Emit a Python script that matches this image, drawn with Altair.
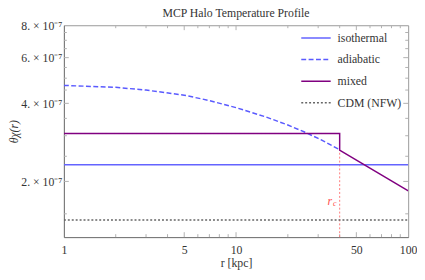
import altair as alt
import pandas as pd

# ---- data ----
series_names = ["isothermal", "adiabatic", "mixed", "CDM (NFW)"]
series_colors = ["#6464ff", "#5a5aff", "#800080", "#666666"]
series_dash = [[1, 0], [5, 2.5], [1, 0], [2, 2]]

iso_r = [1, 100]
iso_t = [2.32e-7, 2.32e-7]

adia_r = [1, 2, 3, 5, 7, 10, 15, 20, 25, 30, 35, 40]
adia_t = [4.69e-7, 4.61e-7, 4.50e-7, 4.30e-7, 4.10e-7, 3.85e-7, 3.54e-7,
          3.30e-7, 3.10e-7, 2.93e-7, 2.78e-7, 2.65e-7]

mixed_r = [1, 40, 40, 100]
mixed_t = [3.06e-7, 3.06e-7, 2.64e-7, 1.84e-7]

cdm_r = [1, 100]
cdm_t = [1.42e-7, 1.42e-7]

r_c = 40
r_c_top = 2.64e-7
r_c_label_y = 1.68e-7

x_domain = [1, 100]
y_domain = [1.22e-7, 8e-7]
x_tick_values = [1, 5, 10, 50, 100]
x_minor = [2, 3, 4, 6, 7, 8, 9, 20, 30, 40, 60, 70, 80, 90]
x_major = [5, 10, 50]
y_tick_values = [2e-7, 4e-7, 6e-7, 8e-7]
y_minor = [1.5e-7, 2.5e-7, 3e-7, 3.5e-7, 4.5e-7, 5e-7, 5.5e-7, 6.5e-7, 7e-7, 7.5e-7]
y_major = [2e-7, 4e-7, 6e-7]

W, H = 351, 216
SERIF = "Liberation Serif"

rows = []
for name, rs, ts in [("isothermal", iso_r, iso_t), ("adiabatic", adia_r, adia_t),
                     ("mixed", mixed_r, mixed_t), ("CDM (NFW)", cdm_r, cdm_t)]:
    for i, (r, t) in enumerate(zip(rs, ts)):
        rows.append({"series": name, "r": r, "theta": t, "order": i})
lines_df = pd.DataFrame(rows)

xs = alt.Scale(type="log", domain=x_domain, nice=False)
ys = alt.Scale(type="log", domain=y_domain, nice=False)

x_axis = alt.Axis(values=x_tick_values, format="d", title="r [kpc]", tickSize=0,
                  labelFont=SERIF, labelFontSize=12, labelColor="#333", labelPadding=8,
                  titleFont=SERIF, titleFontSize=12, titleFontWeight="normal",
                  titleColor="#333", titlePadding=2, domainColor="#777", grid=False,
                  labelFlush=False)
y_axis = alt.Axis(values=y_tick_values, labelExpr="toString(round(datum.value*1e7)) + '. × 10⁻⁷'",
                  title="θχ(r)", tickSize=0, labelFont=SERIF, labelFontSize=12,
                  labelColor="#333", labelPadding=2, titleFont=SERIF, titleFontSize=12,
                  titleFontWeight="normal", titleFontStyle="italic", titleColor="#333",
                  titlePadding=0, domainColor="#777", grid=False)

legend_props = dict(title=None, orient="top-right", symbolType="stroke",
                    symbolSize=900, symbolStrokeWidth=1.5,
                    labelFont=SERIF, labelFontSize=12, labelColor="#333",
                    labelOffset=6, rowPadding=10, clipHeight=12,
                    offset=7, padding=0)

lines = alt.Chart(lines_df).mark_line(strokeWidth=1.5, clip=True).encode(
    x=alt.X("r:Q", scale=xs, axis=x_axis),
    y=alt.Y("theta:Q", scale=ys, axis=y_axis),
    color=alt.Color("series:N", scale=alt.Scale(domain=series_names, range=series_colors),
                    legend=alt.Legend(**legend_props)),
    strokeDash=alt.StrokeDash("series:N", scale=alt.Scale(domain=series_names, range=series_dash),
                              legend=alt.Legend(**legend_props)),
    detail="series:N",
    order="order:Q",
)

rc_df = pd.DataFrame({"r": [r_c], "lo": [y_domain[0]], "hi": [r_c_top], "ly": [r_c_label_y]})
rc_rule = alt.Chart(rc_df).mark_rule(color="#ff7a7a", strokeDash=[2, 2], strokeWidth=1).encode(
    x=alt.X("r:Q", scale=xs), y=alt.Y("lo:Q", scale=ys), y2="hi:Q")
rc_r = alt.Chart(rc_df).mark_text(text="r", font=SERIF, fontSize=12, fontStyle="italic",
                                  color="#ff4d4d", dx=-10).encode(
    x=alt.X("r:Q", scale=xs), y=alt.Y("ly:Q", scale=ys))
rc_c = alt.Chart(rc_df).mark_text(text="c", font=SERIF, fontSize=8, fontStyle="italic",
                                  color="#ff4d4d", dx=-5, dy=3).encode(
    x=alt.X("r:Q", scale=xs), y=alt.Y("ly:Q", scale=ys))

tick_color = "#b0b0b0"
def xticks(vals, length):
    d = pd.DataFrame({"r": vals})
    b = alt.Chart(d).mark_rule(color=tick_color, strokeWidth=1).encode(
        x=alt.X("r:Q", scale=xs), y=alt.value(H), y2=alt.value(H - length))
    t = alt.Chart(d).mark_rule(color=tick_color, strokeWidth=1).encode(
        x=alt.X("r:Q", scale=xs), y=alt.value(0), y2=alt.value(length))
    return [b, t]

def yticks(vals, length):
    d = pd.DataFrame({"t": vals})
    l = alt.Chart(d).mark_rule(color=tick_color, strokeWidth=1).encode(
        y=alt.Y("t:Q", scale=ys), x=alt.value(0), x2=alt.value(length))
    r = alt.Chart(d).mark_rule(color=tick_color, strokeWidth=1).encode(
        y=alt.Y("t:Q", scale=ys), x=alt.value(W), x2=alt.value(W - length))
    return [l, r]

ticks = xticks(x_minor, 3) + xticks(x_major, 5) + yticks(y_minor, 3) + yticks(y_major, 5)

chart = alt.layer(*ticks, rc_rule, lines, rc_r, rc_c).resolve_scale(
    color="shared", strokeDash="shared"
).properties(
    width=W, height=H,
    title=alt.TitleParams("MCP Halo Temperature Profile", font=SERIF, fontSize=12,
                          fontWeight="normal", color="#333", offset=-1),
    autosize=alt.AutoSizeParams(type="none"),
    padding={"left": 57, "top": 15, "right": 9, "bottom": 33},
).configure_view(stroke="#999", strokeWidth=1).configure_legend(
    labelFont=SERIF, labelFontSize=12, labelColor="#333"
)

chart.save("out.html", embed_options={"renderer": "svg", "actions": False})
